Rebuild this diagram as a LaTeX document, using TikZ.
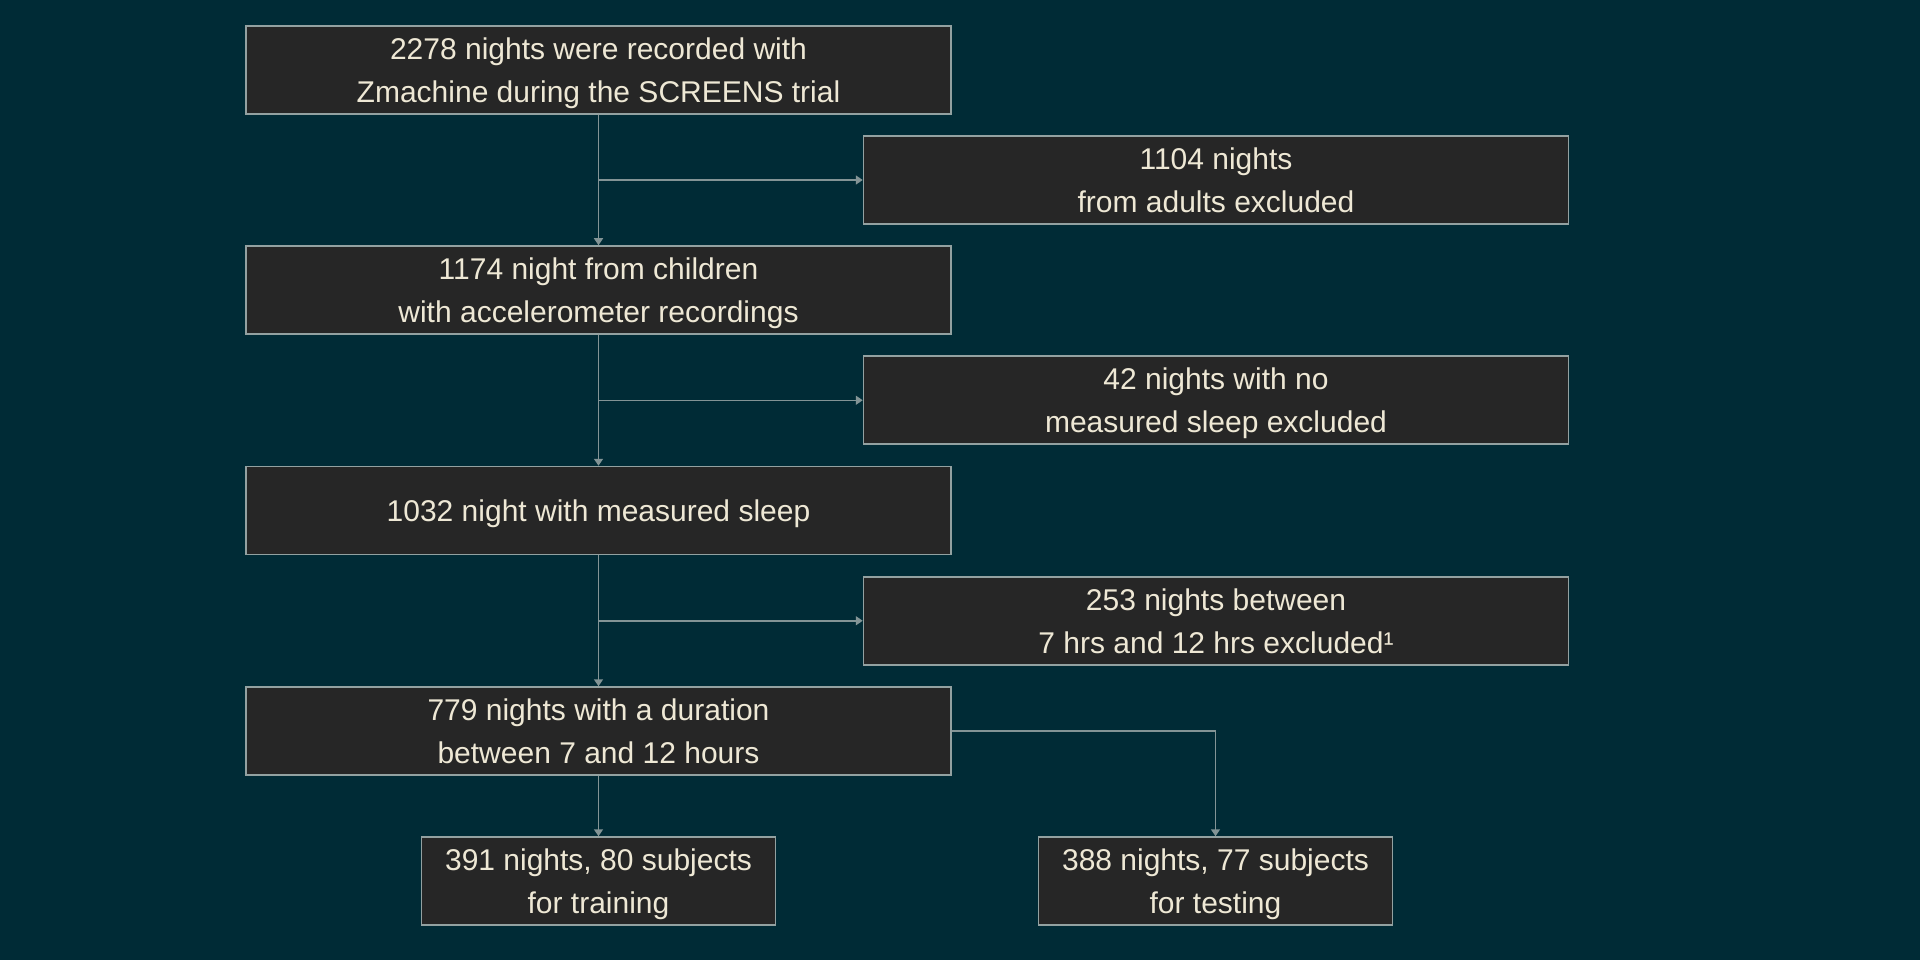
\documentclass[tikz,border=0pt]{standalone}
\usepackage{fontspec}
\setmainfont{Liberation Sans}
\usetikzlibrary{arrows.meta,calc}
\definecolor{bgcol}{HTML}{002B36}
\definecolor{boxcol}{HTML}{262626}
\definecolor{bordercol}{HTML}{93A1A1}
\definecolor{linecol}{HTML}{839496}
\definecolor{txtcol}{HTML}{EEE8D5}
\newcommand\nodp[1]{\raisebox{0pt}[\height][0pt]{#1}}
\tikzset{
  box/.style={draw=bordercol, fill=boxcol, line width=1.5pt, minimum width=705pt,
    minimum height=88pt, align=center, inner sep=0pt, text=txtcol,
    font=\fontsize{30}{43}\selectfont},
  smallbox/.style={box, minimum width=354pt},
  conn/.style={draw=linecol, line width=1.5pt, -{Triangle[length=7pt,width=9pt]}}
}
\begin{document}
\begin{tikzpicture}[x=1pt,y=-1pt]
\fill[bgcol] (0,0) rectangle (1920,960);
\useasboundingbox (0,0) rectangle (1920,960);
\node[box] (n1) at (598.5,70) {2278 nights were recorded with\\\nodp{Zmachine during the SCREENS trial}};
\node[box] (e1) at (1216,180) {1104 nights\\\nodp{from adults excluded}};
\node[box] (n2) at (598.5,290) {1174 night from children\\\nodp{with accelerometer recordings}};
\node[box] (e2) at (1216,400) {42 nights with no\\\nodp{measured sleep excluded}};
\node[box] (n3) at (598.5,510.5) {\nodp{1032 night with measured sleep}};
\node[box] (e3) at (1216,621) {253 nights between\\\nodp{7 hrs and 12 hrs excluded¹}};
\node[box] (n4) at (598.5,731) {779 nights with a duration\\\nodp{between 7 and 12 hours}};
\node[smallbox] (t1) at (598.5,881) {391 nights, 80 subjects\\\nodp{for training}};
\node[smallbox] (t2) at (1215.5,881) {388 nights, 77 subjects\\\nodp{for testing}};
\coordinate (b1) at ($(n1.south)!0.5!(n2.north)$);
\coordinate (b2) at ($(n2.south)!0.5!(n3.north)$);
\coordinate (b3) at ($(n3.south)!0.5!(n4.north)$);
\draw[conn] (n1.south) -- (n2.north);
\draw[conn] (b1) -- (b1 -| e1.west);
\draw[conn] (n2.south) -- (n3.north);
\draw[conn] (b2) -- (b2 -| e2.west);
\draw[conn] (n3.south) -- (n4.north);
\draw[conn] (b3) -- (b3 -| e3.west);
\draw[conn] (n4.south) -- (t1.north);
\draw[conn] (n4.east) -| (t2.north);
\end{tikzpicture}
\end{document}
